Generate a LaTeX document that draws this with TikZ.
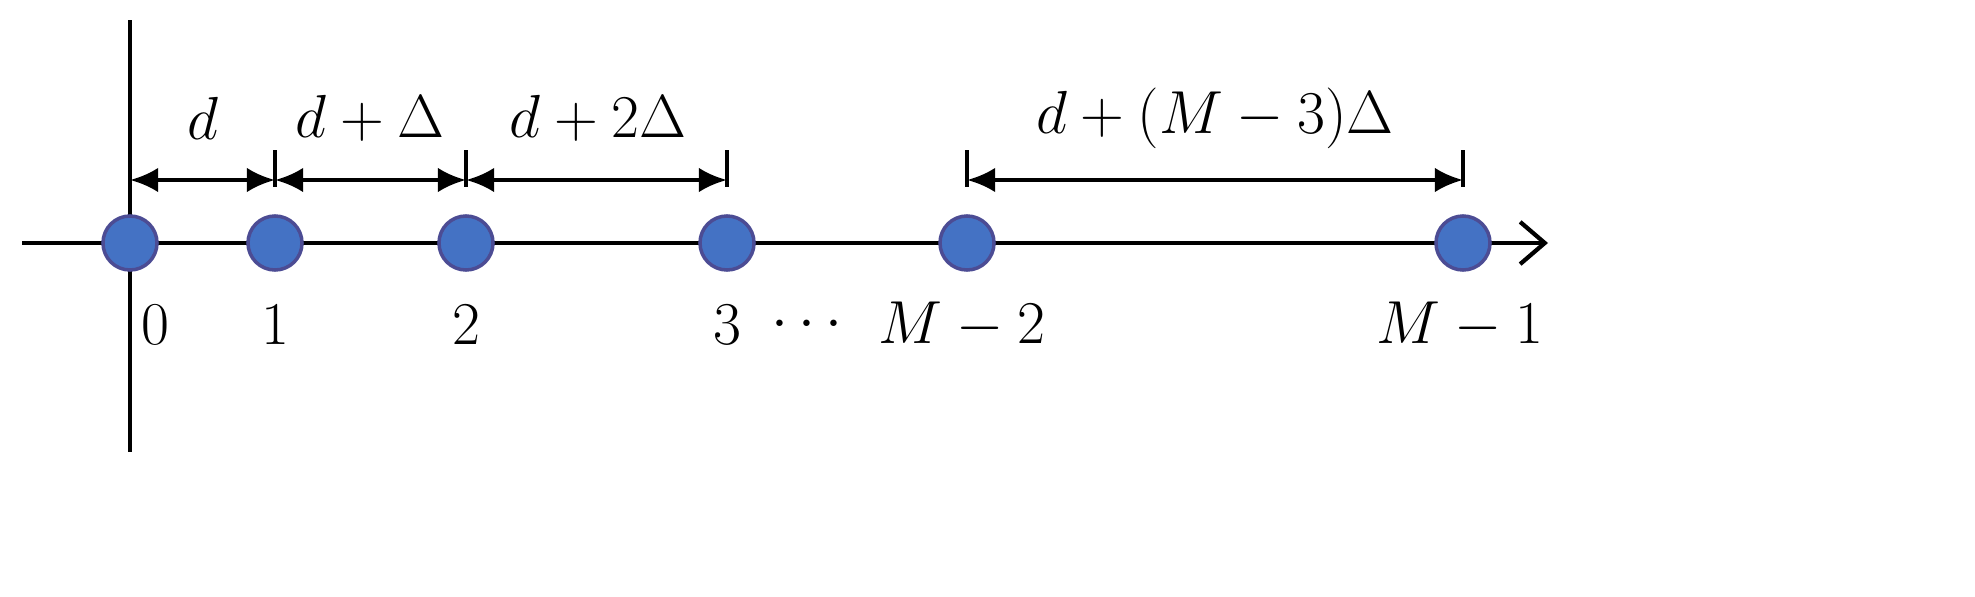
\documentclass[tikz,border=0pt]{standalone}
\usetikzlibrary{arrows.meta}
\begin{document}
\begin{tikzpicture}[x=0.01cm,y=-0.01cm,
  dot/.style={circle,draw=blue!40!black!70!,fill={rgb,255:red,68;green,114;blue,196},line width=1pt,minimum size=0.54cm,inner sep=0},
  lbl/.style={font=\fontsize{19}{23}\selectfont},
  dim/.style={line width=1.2pt,{Latex[length=8pt,width=7pt]}-{Latex[length=8pt,width=7pt]}},
  tick/.style={line width=1pt}]
\useasboundingbox (0,0) rectangle (1975,597);
\draw[line width=1.2pt] (130,20) -- (130,452);
\coordinate (xs) at (22,243); \coordinate (xe) at (1548,243);
\draw[line width=1.2pt,-{Straight Barb[length=7pt,width=12pt]}] (xs) -- (xe);
\foreach \n/\x in {a/130,b/275,c/466,e/727,f/967,g/1463}{
  \node[dot] (\n) at (\x,243) {};
  \coordinate (\n t) at (\x,150); \coordinate (\n m) at (\x,180); \coordinate (\n b) at (\x,187);
}
\foreach \n in {b,c,e,f,g}{\draw[tick] (\n t) -- (\n b);}
\draw[dim] (am) -- (bm);
\draw[dim] (bm) -- (cm);
\draw[dim] (cm) -- (em);
\draw[dim] (fm) -- (gm);
\node[lbl] (l1) at (203,118) {$d$};
\node[lbl] (l2) at (370,118) {$d+\Delta$};
\node[lbl] (l3) at (598,118) {$d+2\Delta$};
\node[lbl] (l4) at (1215,118) {$d+(M-3)\Delta$};
\node[lbl] (n0) at (155,325) {$0$};
\node[lbl] (n1) at (275,325) {$1$};
\node[lbl] (n2) at (466,325) {$2$};
\node[lbl] (n3) at (727,325) {$3$};
\node[lbl] (nd) at (807,325) {$\cdots$};
\node[lbl] (n4) at (962,325) {$M-2$};
\node[lbl] (n5) at (1460,325) {$M-1$};
\end{tikzpicture}
\end{document}
